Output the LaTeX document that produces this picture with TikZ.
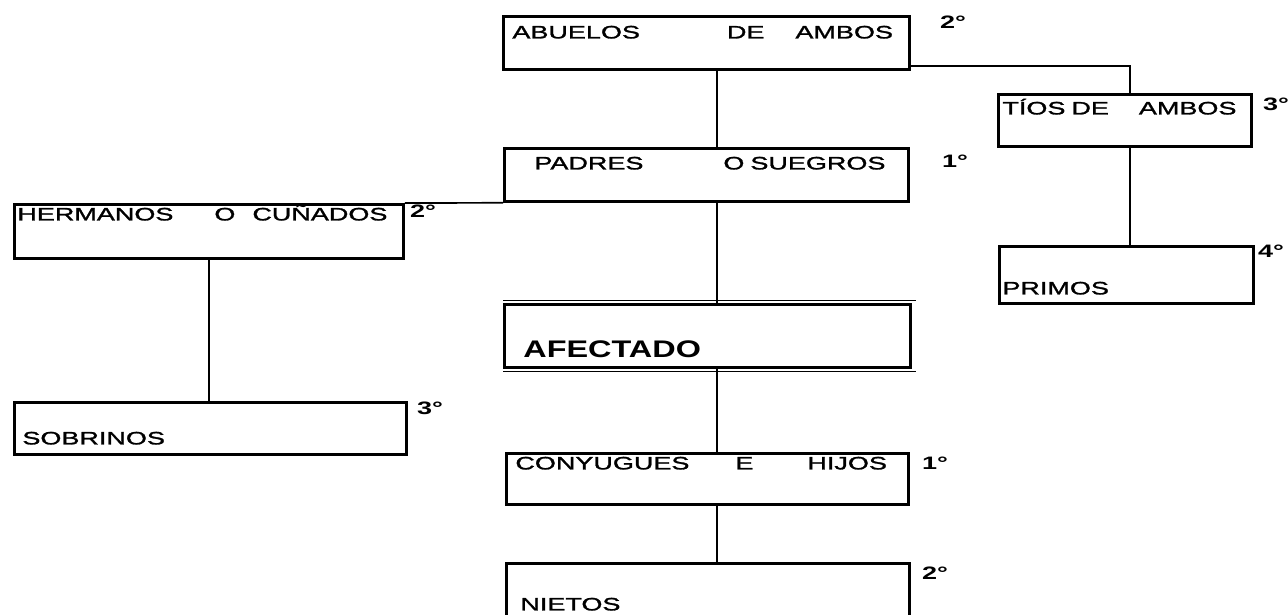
\documentclass[tikz,border=0pt]{standalone}
\usepackage{fontspec}
\newfontfamily\letra[FakeStretch=1.5, FakeBold=1.5]{Liberation Sans}
\newfontfamily\letragrado[FakeStretch=1.5]{Liberation Sans}
\newfontfamily\letragruesa[FakeStretch=1.35]{Liberation Sans}
\usetikzlibrary{positioning,calc}

\tikzset{
  caja/.style={draw, line width=2.8pt, inner sep=0pt, anchor=north west, align=left,
    font=\letra\fontsize{18}{20}\selectfont},
  grado/.style={inner sep=0pt, anchor=base west, font=\letragrado\bfseries\fontsize{18}{20}\selectfont},
  linea/.style={line width=1.7pt},
  fino/.style={line width=0.9pt}
}

\begin{document}
\begin{tikzpicture}[x=1pt, y=-1pt]
  \useasboundingbox (0,0) rectangle (1288,614);
  % upper generations
  \node[caja, text width=406pt, text height=22pt, text depth=31pt] (abuelos) at (502,15)
    {\hspace*{9pt}ABUELOS\hspace{87pt}DE\hspace{31pt}AMBOS};
  \node[caja, text width=253pt, text height=20pt, text depth=32pt] (tios) at (997,93)
    {\hspace*{4pt}TÍOS DE\hspace{30pt}AMBOS};
  \node[caja, text width=404pt, text height=21pt, text depth=32pt] (padres) at (503,147)
    {\hspace*{30pt}PADRES\hspace{80pt}O SUEGROS};
  \node[caja, text width=389pt, text height=16pt, text depth=38pt] (hermanos) at (13,203)
    {\hspace*{3pt}HERMANOS\hspace{41pt}O\hspace{17pt}CUÑADOS};
  \node[caja, text width=254pt, text height=48pt, text depth=9pt] (primos) at (998,245)
    {\hspace*{3pt}PRIMOS};
  % affected person (double rule top and bottom)
  \node[caja, text width=406pt, text height=53pt, text depth=10pt,
    font=\letragruesa\bfseries\fontsize{24}{26}\selectfont] (afectado) at (503,303)
    {\hspace*{19pt}AFECTADO};
  \draw[fino] ([yshift=2.2pt]afectado.north west) -- ([xshift=4pt,yshift=2.2pt]afectado.north east);
  \draw[fino] ([yshift=-2.2pt]afectado.south west) -- ([xshift=4pt,yshift=-2.2pt]afectado.south east);
  % lower generations
  \node[caja, text width=392pt, text height=42pt, text depth=10pt] (sobrinos) at (13,401)
    {\hspace*{8pt}SOBRINOS};
  \node[caja, text width=402pt, text height=16pt, text depth=35pt] (conyugues) at (505,452)
    {\hspace*{9pt}CONYUGUES\hspace{46pt}E\hspace{54pt}HIJOS};
  \node[caja, text width=403pt, text height=47pt, text depth=7pt] (nietos) at (505,562)
    {\hspace*{14pt}NIETOS};
  % degrees
  \node[grado] (g-abuelos) at (940,28) {2°};
  \node[grado] (g-tios) at (1263,110) {3°};
  \node[grado] (g-padres) at (942,167) {1°};
  \node[grado] (g-hermanos) at (410,217) {2°};
  \node[grado] (g-primos) at (1258,257) {4°};
  \node[grado] (g-sobrinos) at (417,414) {3°};
  \node[grado] (g-conyugues) at (922,469) {1°};
  \node[grado] (g-nietos) at (922,579) {2°};
  % connectors
  \coordinate (tronco) at (717,0);
  \coordinate (ramal) at (1130,0);
  \draw[linea] (abuelos.south -| tronco) -- (padres.north -| tronco);
  \draw[linea] ($(abuelos.south east)+(0,-5)$) -| (tios.north -| ramal);
  \draw[linea] (tios.south -| ramal) -- (primos.north -| ramal);
  \draw[linea] (padres.south west) -- (hermanos.north east);
  \draw[linea] (hermanos.south) -- (sobrinos.north -| hermanos.south);
  \draw[linea] (padres.south -| tronco) -- (afectado.north -| tronco);
  \draw[linea] (afectado.south -| tronco) -- (conyugues.north -| tronco);
  \draw[linea] (conyugues.south -| tronco) -- (nietos.north -| tronco);
\end{tikzpicture}
\end{document}
